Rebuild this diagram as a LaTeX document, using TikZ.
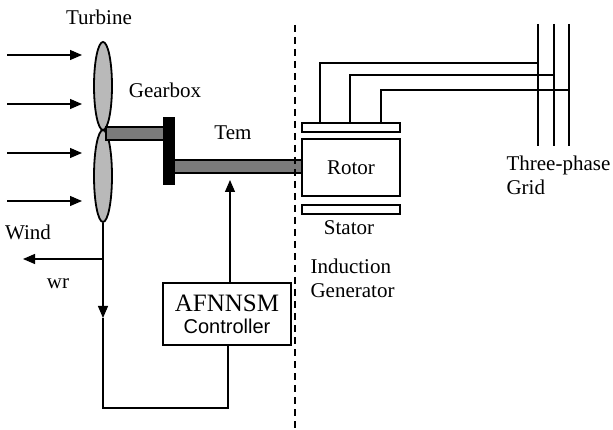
\documentclass[tikz,border=0pt]{standalone}
\usepackage{fontspec}
\setmainfont{Liberation Serif}
\newfontfamily\arialf{Liberation Sans}
\usetikzlibrary{shapes.geometric,arrows.meta}
\begin{document}
\begin{tikzpicture}[x=1pt,y=1pt,
  font=\fontsize{21}{24}\selectfont,
  line width=1.1pt,
  arr/.style={-{Triangle[length=12pt,width=10pt]}},
  blade/.style={ellipse, draw, line width=1.8pt, fill=gray!55, minimum width=18pt, inner sep=0pt},
  shaftbox/.style={rectangle, draw, fill=gray!85!black!90, minimum width=#1, inner sep=0pt},
  bar/.style={rectangle, draw, fill=white, minimum width=98pt, inner sep=0pt},
  lbl/.style={inner sep=0pt},
  wire/.style={line width=1.1pt}
]
\useasboundingbox (0,0) rectangle (613,-430);

% turbine blades
\node[blade, minimum height=88pt] (bu) at (103,-86) {};
\node[blade, minimum height=92pt] (bl) at (103,-176) {};
\node[lbl] (turb) at (99,-17) {Turbine};

% wind arrows
\foreach \i/\yy in {1/55,2/104,3/153,4/201}{
  \coordinate (ws\i) at (7,-\yy);
  \coordinate (we\i) at (82,-\yy);
  \draw[arr] (ws\i) -- (we\i);
}
\node[lbl] (wind) at (28,-232) {Wind};

% shafts and gearbox
\node[shaftbox=58pt, minimum height=13pt] (sh1) at (135,-133.5) {};
\node[rectangle, fill=black, draw, minimum width=10pt, minimum height=66pt, inner sep=0pt] (gb) at (169,-151) {};
\node[shaftbox=128pt, minimum height=13pt] (sh2) at (238,-166.5) {};
\node[lbl] (gear) at (165,-90) {Gearbox};
\node[lbl] (tem) at (233,-133) {Tem};

% generator
\node[bar, minimum height=9pt] (top) at (351,-127.5) {};
\node[rectangle, draw, fill=white, minimum width=98pt, minimum height=57pt, inner sep=0pt] (rotor) at (351,-167.5) {Rotor};
\node[bar, minimum height=9pt] (stat) at (351,-209.5) {};
\node[lbl] (statl) at (349,-228) {Stator};
\node[lbl, anchor=west, align=left] (ig) at (310,-278.5) {Induction\\Generator};

% dashed separator
\coordinate (d1) at (295,-25);
\coordinate (d2) at (295,-430);
\draw[dash pattern=on 7pt off 5pt] (d1) -- (d2);

% grid
\coordinate (g1t) at (538,-24); \coordinate (g1b) at (538,-146);
\coordinate (g2t) at (554,-24); \coordinate (g2b) at (554,-146);
\coordinate (g3t) at (569,-24); \coordinate (g3b) at (569,-146);
\draw[wire] (g1t) -- (g1b);
\draw[wire] (g2t) -- (g2b);
\draw[wire] (g3t) -- (g3b);
\coordinate (w1) at (538,-63);
\coordinate (w2) at (554,-75);
\coordinate (w3) at (569,-90);
\draw[wire] ([xshift=-31pt]top.north) |- (w1);
\draw[wire] ([xshift=-1pt]top.north) |- (w2);
\draw[wire] ([xshift=30pt]top.north) |- (w3);
\node[lbl, anchor=west, align=left] (grid) at (506,-175) {Three-phase\\Grid};

% controller
\node[rectangle, draw, minimum width=128pt, minimum height=62pt, inner sep=0pt, align=center] (ctrl) at (227,-314)
  {{\fontsize{25}{27}\selectfont AFNNSM}\\[-2pt]{\arialf\fontsize{20}{22}\selectfont Controller}};
\coordinate (ct) at (230,-283);
\coordinate (tip) at (230,-180);
\draw[arr] (ct) -- (tip);

% speed feedback
\coordinate (fb1) at (103,-318);
\coordinate (fb2) at (103,-408);
\coordinate (fb3) at (228,-408);
\coordinate (cb) at (228,-345);
\coordinate (wrj) at (103,-259);
\coordinate (wre) at (23,-259);
\draw[arr] (bl.south) -- (fb1);
\draw (fb1) -- (fb2) -- (fb3) -- (cb);
\draw[arr] (wrj) -- (wre);
\node[lbl] (wr) at (58,-284) {wr};
\end{tikzpicture}
\end{document}
